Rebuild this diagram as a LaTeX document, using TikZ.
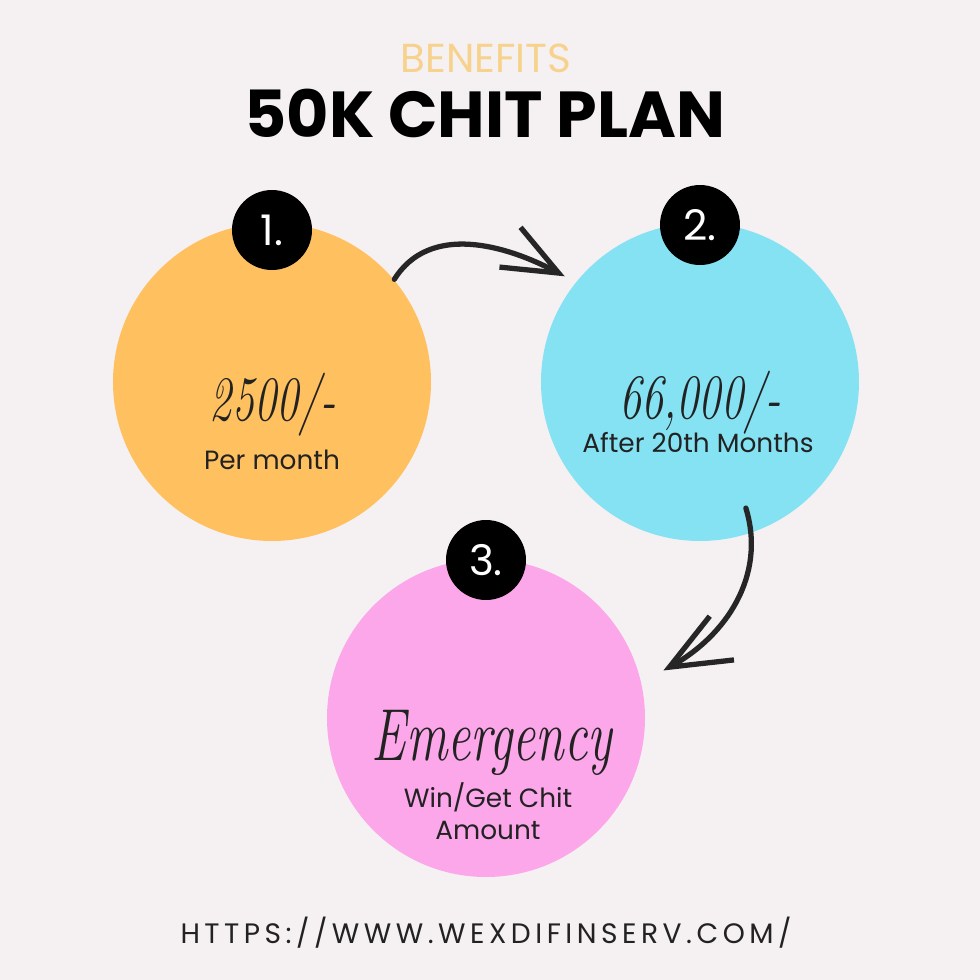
\documentclass[tikz,border=0pt]{standalone}
\usepackage{fontspec}
\setsansfont{Poppins}
\newfontfamily\urlfont[LetterSpace=16]{Poppins}
\usepackage{tikz}
\usetikzlibrary{arrows.meta, calc}
\definecolor{paper}{HTML}{F5F0F2}
\definecolor{planorange}{HTML}{FFC05F}
\definecolor{plancyan}{HTML}{85E2F2}
\definecolor{planpink}{HTML}{FBA7EA}
\definecolor{softgold}{HTML}{F7D28C}
\definecolor{inkdark}{HTML}{222222}
\newcommand{\hand}[2]{\scalebox{0.7}[1]{\fontsize{#1}{#1}\selectfont\rmfamily\itshape #2}}

\begin{document}
\begin{tikzpicture}[
    disc/.style={circle, minimum size=3.18cm, inner sep=0pt},
    badge/.style={circle, fill=black, minimum size=0.8cm, inner sep=0pt, text=white, font=\sffamily\fontsize{12}{12}\selectfont},
    amount/.style={anchor=base, text=inkdark},
    caption/.style={anchor=base, text=inkdark, align=center, font=\sffamily\fontsize{7.5}{9}\selectfont},
    sketch/.style={draw=black!85, line width=1.5pt, line cap=round}
]
\fill[paper] (0,0) rectangle (9.8,9.8);

% Heading
\node[anchor=base, text=softgold, font=\sffamily\fontsize{11.5}{11.5}\selectfont] (kicker) at (4.86,9.08) {BENEFITS};
\node[anchor=base, font=\sffamily\bfseries\fontsize{18.5}{18.5}\selectfont] (title) at (4.85,8.43) {50K CHIT PLAN};

% Circles
\node[disc, fill=planorange] (month) at (2.72,5.98) {};
\node[disc, fill=plancyan] (payout) at (7.00,5.98) {};
\node[disc, fill=planpink] (emerg) at (4.86,2.62) {};

\node[badge] (one) at (2.72,7.50) {1.};
\node[badge] (two) at (7.00,7.55) {2.};
\node[badge] (three) at (4.86,4.20) {3.};

% Texts inside
\node[amount] (fee) at (2.73,5.60) {\hand{18}{2500/-}};
\node[caption] (feetxt) at (2.72,5.11) {Per month};
\node[amount] (prize) at (7.00,5.62) {\hand{18}{66,000/-}};
\node[caption] (prizetxt) at (6.98,5.28) {After 20th Months};
\node[amount] (urgent) at (4.92,2.20) {\hand{21}{Emergency}};
\node[caption] (urgenttxt) at (4.88,1.73) {Win/Get Chit};
\node[caption] (urgenttxt2) at (4.88,1.41) {Amount};

% Arrows
\coordinate (a1end) at ($(payout.center)!1.075!(payout.142)$);
\coordinate (a2start) at ($(payout.center)!0.84!(payout.-70)$);
\coordinate (a2end) at ($(emerg.center)!1.15!(emerg.15)$);
\draw[sketch, -{Straight Barb[length=5.5mm, width=4.5mm]}] (month.40) to[out=58, in=152] (a1end);
\draw[sketch, -{Straight Barb[length=6mm, width=5mm]}] (a2start) to[out=-73, in=29] (a2end);

% Footer
\node[anchor=base, text=inkdark, font=\urlfont\fontsize{8}{8}\selectfont] (site) at (4.86,0.36) {HTTPS://WWW.WEXDIFINSERV.COM/};
\end{tikzpicture}
\end{document}
